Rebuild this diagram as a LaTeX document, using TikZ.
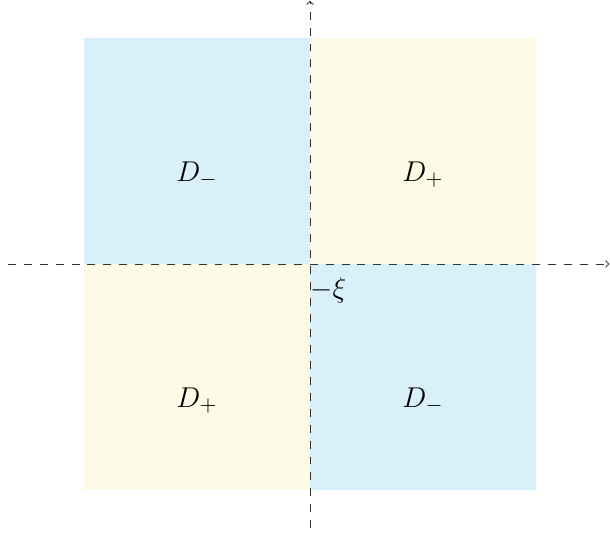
\documentclass[tikz,border=0pt]{standalone}
\definecolor{bluefill}{RGB}{216,240,250}
\definecolor{yellowfill}{RGB}{253,251,229}
\tikzset{
  axisline/.style={draw=black!80, line width=0.5pt, dash pattern=on 4pt off 4pt, ->},
  region/.style={font=\fontsize{15}{18}\selectfont},
}
\begin{document}
\begin{tikzpicture}
\useasboundingbox (-5.487,-4.779) rectangle (5.310,4.673);
\fill[bluefill] (-4,0) rectangle (0,4);
\fill[yellowfill] (0,0) rectangle (4,4);
\fill[yellowfill] (-4,-4) rectangle (0,0);
\fill[bluefill] (0,-4) rectangle (4,0);
\coordinate (xs) at (-5.345,0);
\coordinate (xe) at (5.30,0);
\coordinate (ys) at (0,-4.673);
\coordinate (ye) at (0,4.66);
\coordinate (o) at (0,0);
\draw[axisline] (xs) -- (xe);
\draw[axisline] (ys) -- (ye);
\node[region] (dm1) at (-2,1.58) {$D_-$};
\node[region] (dp1) at (2,1.58) {$D_+$};
\node[region] (dp2) at (-2,-2.42) {$D_+$};
\node[region] (dm2) at (2,-2.42) {$D_-$};
\node[region, anchor=west, inner sep=0pt] (xi) at (0.0,-0.46) {$-\xi$};
\end{tikzpicture}
\end{document}
